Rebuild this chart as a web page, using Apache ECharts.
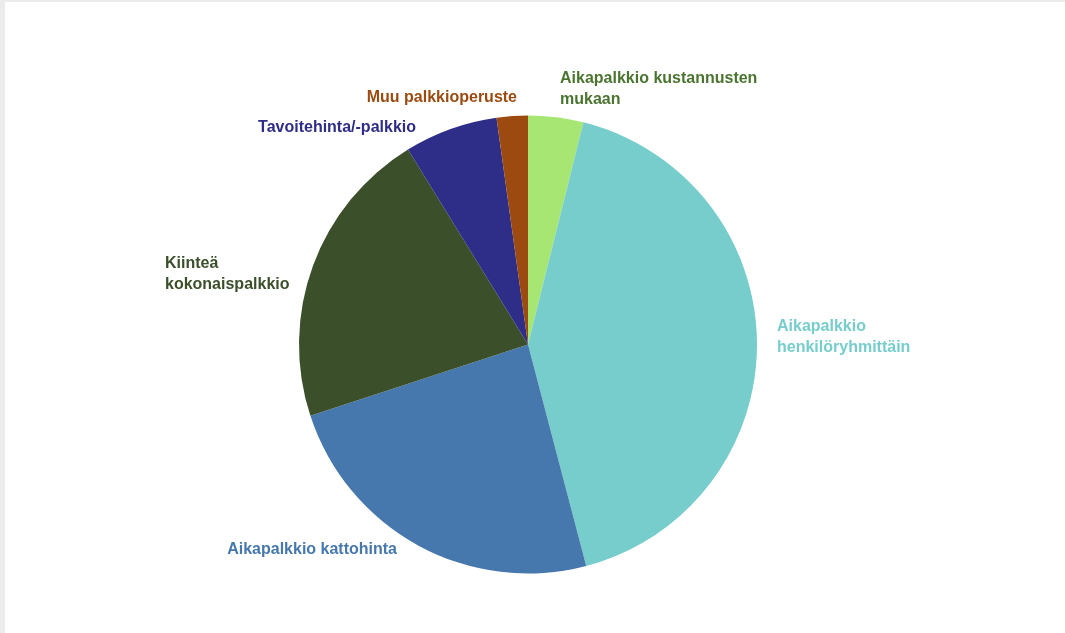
<!DOCTYPE html>
<html>
<head>
<meta charset="utf-8">
<script src="https://cdn.jsdelivr.net/npm/echarts@6/dist/echarts.min.js"></script>
<style>
  html, body { margin: 0; padding: 0; background: #ebebeb; width: 1065px; height: 633px; overflow: hidden; }
  #chart { position: absolute; left: 5px; top: 2px; width: 1060px; height: 631px; background: #ffffff; }
</style>
</head>
<body>
<div id="chart"></div>
<script>
const categories = [
  'Aikapalkkio kustannusten\nmukaan',
  'Aikapalkkio\nhenkilöryhmittäin',
  'Aikapalkkio kattohinta',
  'Kiinteä\nkokonaispalkkio',
  'Tavoitehinta/-palkkio',
  'Muu palkkioperuste'
];
const values = [3.9, 42.1, 24.1, 21.3, 6.6, 2.2];
const sliceColors = ['#a8e673', '#76cdcc', '#4677ad', '#3a4f2a', '#2e2d87', '#9c4a10'];
const labelColors = ['#4a7430', '#76cdcc', '#4677ad', '#3a4f2a', '#2e2d87', '#9c4a10'];

// label anchors (chart coordinates) and alignment
const labelPlace = [
  { x: 555, y: 87.5, align: 'left' },
  { x: 772, y: 335.5, align: 'left' },
  { x: 392, y: 548, align: 'right' },
  { x: 160, y: 272.5, align: 'left' },
  { x: 411, y: 126, align: 'right' },
  { x: 512, y: 96, align: 'right' }
];

const chart = echarts.init(document.getElementById('chart'), null, { renderer: 'canvas' });
chart.setOption({
  animation: false,
  series: [{
    type: 'pie',
    center: [523, 342.5],
    radius: [0, 229],
    startAngle: 90,
    clockwise: true,
    avoidLabelOverlap: false,
    label: {
      show: true,
      position: 'outside',
      fontFamily: 'Liberation Sans, Arial, sans-serif',
      fontWeight: 'bold',
      fontSize: 16,
      lineHeight: 21,
      formatter: '{b}'
    },
    labelLine: { show: false },
    labelLayout: function (params) {
      const p = labelPlace[params.dataIndex];
      return { x: p.x, y: p.y, align: p.align, verticalAlign: 'middle' };
    },
    itemStyle: { borderWidth: 0 },
    emphasis: { disabled: true },
    data: categories.map((c, i) => ({
      name: c,
      value: values[i],
      itemStyle: { color: sliceColors[i] },
      label: { color: labelColors[i] }
    }))
  }]
});
</script>
</body>
</html>
